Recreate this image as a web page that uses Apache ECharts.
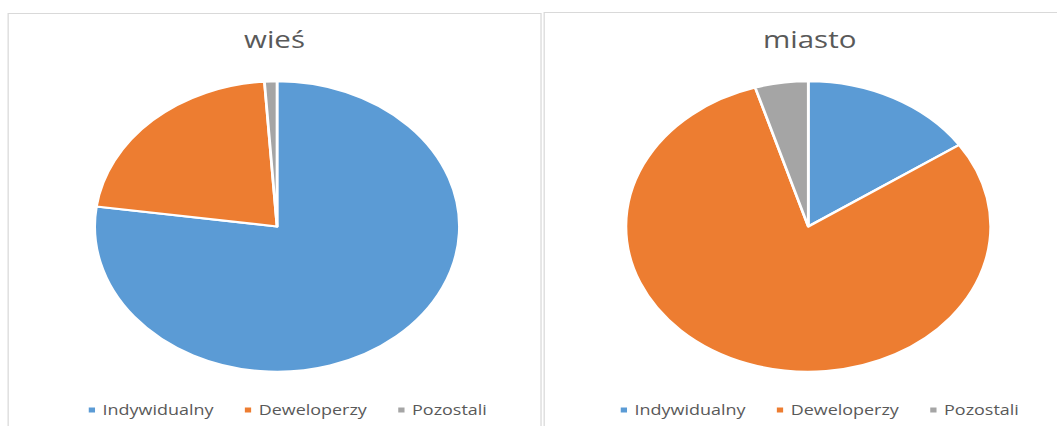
<!DOCTYPE html>
<html>
<head>
<meta charset="utf-8">
<script src="https://cdn.jsdelivr.net/npm/echarts@6/dist/echarts.min.js"></script>
<style>
  html, body {margin: 0; padding: 0; background: #fff; overflow: hidden}
  /* źródłowy wykres jest rozciągnięty w poziomie, więc skalujemy całość */
  #main {width: 842px; height: 426px; transform: scaleX(1.2553); transform-origin: 0 0}
</style>
</head>
<body>
<div id="main"></div>
<script>
const categories = ['Indywidualny', 'Deweloperzy', 'Pozostali']
const titles = ['wieś', 'miasto']
const wiesValues = [77.2, 21.7, 1.1]
const miastoValues = [15.5, 79.8, 4.7]
const colors = ['#5B9BD5', '#ED7D31', '#A5A5A5']

;(function () {
  const chart = echarts.init(document.getElementById('main'), null, {renderer: 'svg'})
  const font = '"Open Sans", "Noto Sans", sans-serif'
  const toData = values => categories.map((name, i) => ({name, value: values[i]}))
  const pie = (values, cx) => ({
    type: 'pie',
    center: [cx, 226.5],
    radius: [0, 145.3],
    startAngle: 90,
    clockwise: true,
    label: {show: false},
    labelLine: {show: false},
    emphasis: {disabled: true},
    itemStyle: {borderColor: '#fff', borderWidth: 2.2},
    data: toData(values),
  })
  const legend = left => ({
    left, top: 398, icon: 'rect', itemWidth: 7, itemHeight: 7, itemGap: 23,
    data: categories,
    textStyle: {fontFamily: font, fontSize: 14.3, color: '#595959'},
  })
  const titleStyle = {fontFamily: font, fontSize: 23.5, fontWeight: 'normal', color: '#595959'}
  const option = {
    color: colors,
    animation: false,
    title: [
      {text: titles[0], left: 218.7, top: 27, textAlign: 'center', padding: 0, textStyle: titleStyle},
      {text: titles[1], left: 645, top: 27, textAlign: 'center', padding: 0, textStyle: titleStyle},
    ],
    legend: [legend(63.7), legend(487.5)],
    graphic: [
      {type: 'rect', silent: true, shape: {x: 6.5, y: 13.5, width: 424.5, height: 430},
        style: {fill: 'none', stroke: '#D9D9D9', lineWidth: 1}},
      {type: 'rect', silent: true, shape: {x: 433.5, y: 12.5, width: 430, height: 430},
        style: {fill: 'none', stroke: '#D9D9D9', lineWidth: 1}},
    ],
    series: [pie(wiesValues, 220.7), pie(miastoValues, 643.9)],
  }
  chart.setOption(option)
})()
</script>
</body>
</html>
